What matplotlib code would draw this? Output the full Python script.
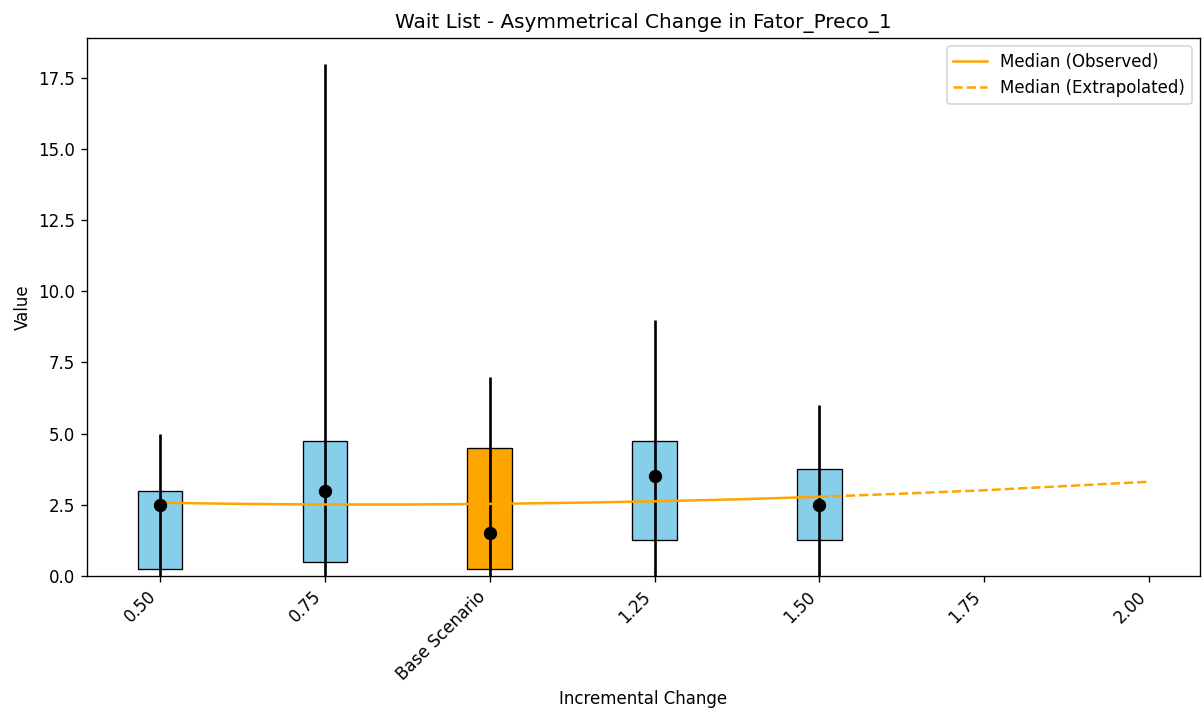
import matplotlib
matplotlib.use("Agg")
import matplotlib.pyplot as plt
import numpy as np

# box summaries per scenario
positions = [0.5, 0.75, 1.0, 1.25, 1.5]
q1 = [0.25, 0.5, 0.25, 1.25, 1.25]
q3 = [3.0, 4.75, 4.5, 4.75, 3.75]
medians = [2.5, 3.0, 1.5, 3.5, 2.5]
mins = [0.0, 0.0, 0.0, 0.0, 0.0]
maxs = [5.0, 18.0, 7.0, 9.0, 6.0]
box_colors = ['skyblue', 'skyblue', 'orange', 'skyblue', 'skyblue']

# median trend curve
trend_obs_x = [0.5, 0.625, 0.75, 0.875, 1.0, 1.125, 1.25, 1.375, 1.5]
trend_obs_y = [2.57, 2.53, 2.51, 2.51, 2.53, 2.57, 2.62, 2.69, 2.78]
trend_ext_x = [1.5, 1.625, 1.75, 1.875, 2.0]
trend_ext_y = [2.78, 2.89, 3.01, 3.16, 3.31]

tick_pos = [0.5, 0.75, 1.0, 1.25, 1.5, 1.75, 2.0]
tick_labels = ['0.50', '0.75', 'Base Scenario', '1.25', '1.50', '1.75', '2.00']

fig, ax = plt.subplots(figsize=(10.025, 5.925), dpi=120)

width = 0.067
for i, p in enumerate(positions):
    ax.bar(p, q3[i] - q1[i], bottom=q1[i], width=width, color=box_colors[i],
           edgecolor='black', linewidth=0.8, zorder=2)
    ax.vlines(p, mins[i], maxs[i], color='black', linewidth=1.6, zorder=3)

ax.plot(trend_obs_x, trend_obs_y, color='orange', linewidth=1.5, label='Median (Observed)', zorder=4)
ax.plot(trend_ext_x, trend_ext_y, color='orange', linewidth=1.5, linestyle='--',
        label='Median (Extrapolated)', zorder=4)
ax.plot(positions, medians, 'o', color='black', markersize=7, zorder=5)

ax.set_xticks(tick_pos)
ax.set_xticklabels(tick_labels, rotation=45, ha='right')
ax.set_ylim(bottom=0)
ax.set_xlabel('Incremental Change')
ax.set_ylabel('Value')
ax.set_title('Wait List - Asymmetrical Change in Fator_Preco_1')
ax.legend(loc='upper right')

plt.subplots_adjust(left=0.0723, right=0.9975, top=0.9466, bottom=0.19)
plt.savefig('out.png', dpi=120)
